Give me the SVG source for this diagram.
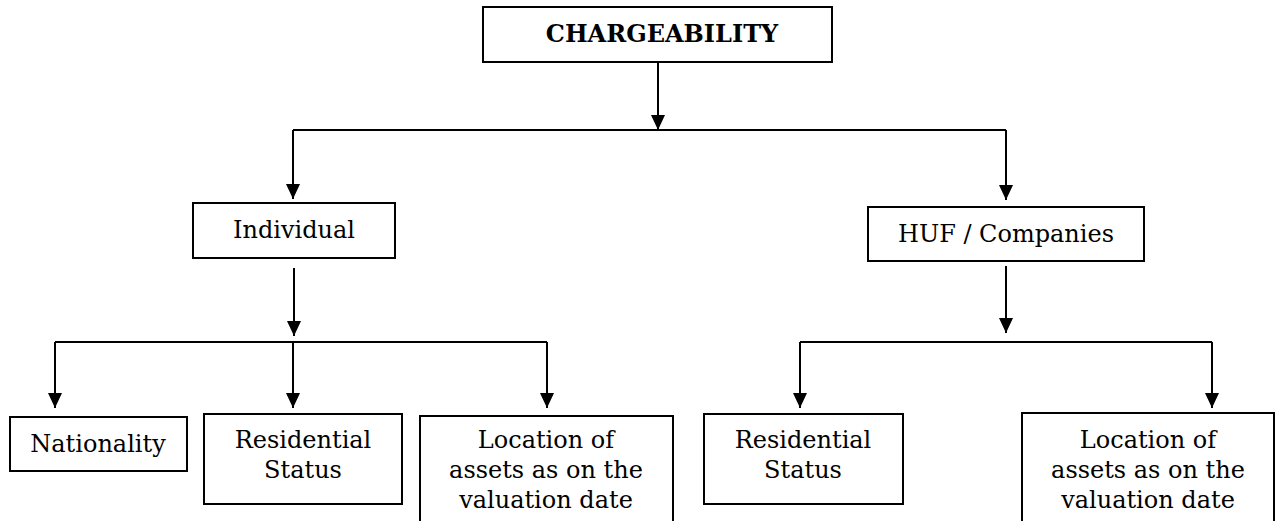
<svg xmlns="http://www.w3.org/2000/svg" width="1275" height="521" viewBox="0 0 1275 521">
<style>
.box{fill:#fff;stroke:#000;stroke-width:2}
.t{font-family:"DejaVu Serif","Liberation Serif",serif;font-size:24px;fill:#000;text-anchor:middle}
.b{font-weight:bold}
.c{fill:none;stroke:#000;stroke-width:2}
</style>
<defs>
<marker id="ah" markerUnits="userSpaceOnUse" markerWidth="16" markerHeight="16" viewBox="0 0 16 16" refX="15" refY="8" orient="auto">
<path d="M0,1 L15,8 L0,15 Z" fill="#000"/>
</marker>
</defs>
<rect x="0" y="0" width="1275" height="521" fill="#fff"/>
<g id="connectors">
<path class="c" d="M658 62 V130" marker-end="url(#ah)"/>
<path class="c" d="M293 130 H1006"/>
<path class="c" d="M293 130 V199" marker-end="url(#ah)"/>
<path class="c" d="M1006 130 V200" marker-end="url(#ah)"/>
<path class="c" d="M294 268 V336" marker-end="url(#ah)"/>
<path class="c" d="M55 342 H547"/>
<path class="c" d="M55 342 V408" marker-end="url(#ah)"/>
<path class="c" d="M293 342 V408" marker-end="url(#ah)"/>
<path class="c" d="M547 342 V408" marker-end="url(#ah)"/>
<path class="c" d="M1006 266 V333" marker-end="url(#ah)"/>
<path class="c" d="M800 342 H1212"/>
<path class="c" d="M800 342 V408" marker-end="url(#ah)"/>
<path class="c" d="M1212 342 V408" marker-end="url(#ah)"/>
</g>
<g id="chargeability">
<rect class="box" x="483" y="7" width="349" height="55"/>
<text class="t b" x="662" y="42">CHARGEABILITY</text>
</g>
<g id="individual">
<rect class="box" x="193" y="203" width="202" height="55"/>
<text class="t" x="294" y="238">Individual</text>
</g>
<g id="huf">
<rect class="box" x="868" y="207" width="276" height="54"/>
<text class="t" x="1006" y="242">HUF / Companies</text>
</g>
<g id="nationality">
<rect class="box" x="10" y="417" width="177" height="54"/>
<text class="t" x="98" y="452">Nationality</text>
</g>
<g id="residential-left">
<rect class="box" x="204" y="414" width="198" height="90"/>
<text class="t" x="303" y="448">Residential</text>
<text class="t" x="303" y="478">Status</text>
</g>
<g id="location-left">
<rect class="box" x="420" y="416" width="253" height="120"/>
<text class="t" x="546" y="448">Location of</text>
<text class="t" x="546" y="478">assets as on the</text>
<text class="t" x="546" y="508">valuation date</text>
</g>
<g id="residential-right">
<rect class="box" x="704" y="414" width="199" height="90"/>
<text class="t" x="803" y="448">Residential</text>
<text class="t" x="803" y="478">Status</text>
</g>
<g id="location-right">
<rect class="box" x="1022" y="413" width="252" height="120"/>
<text class="t" x="1148" y="448">Location of</text>
<text class="t" x="1148" y="478">assets as on the</text>
<text class="t" x="1148" y="508">valuation date</text>
</g>
</svg>
